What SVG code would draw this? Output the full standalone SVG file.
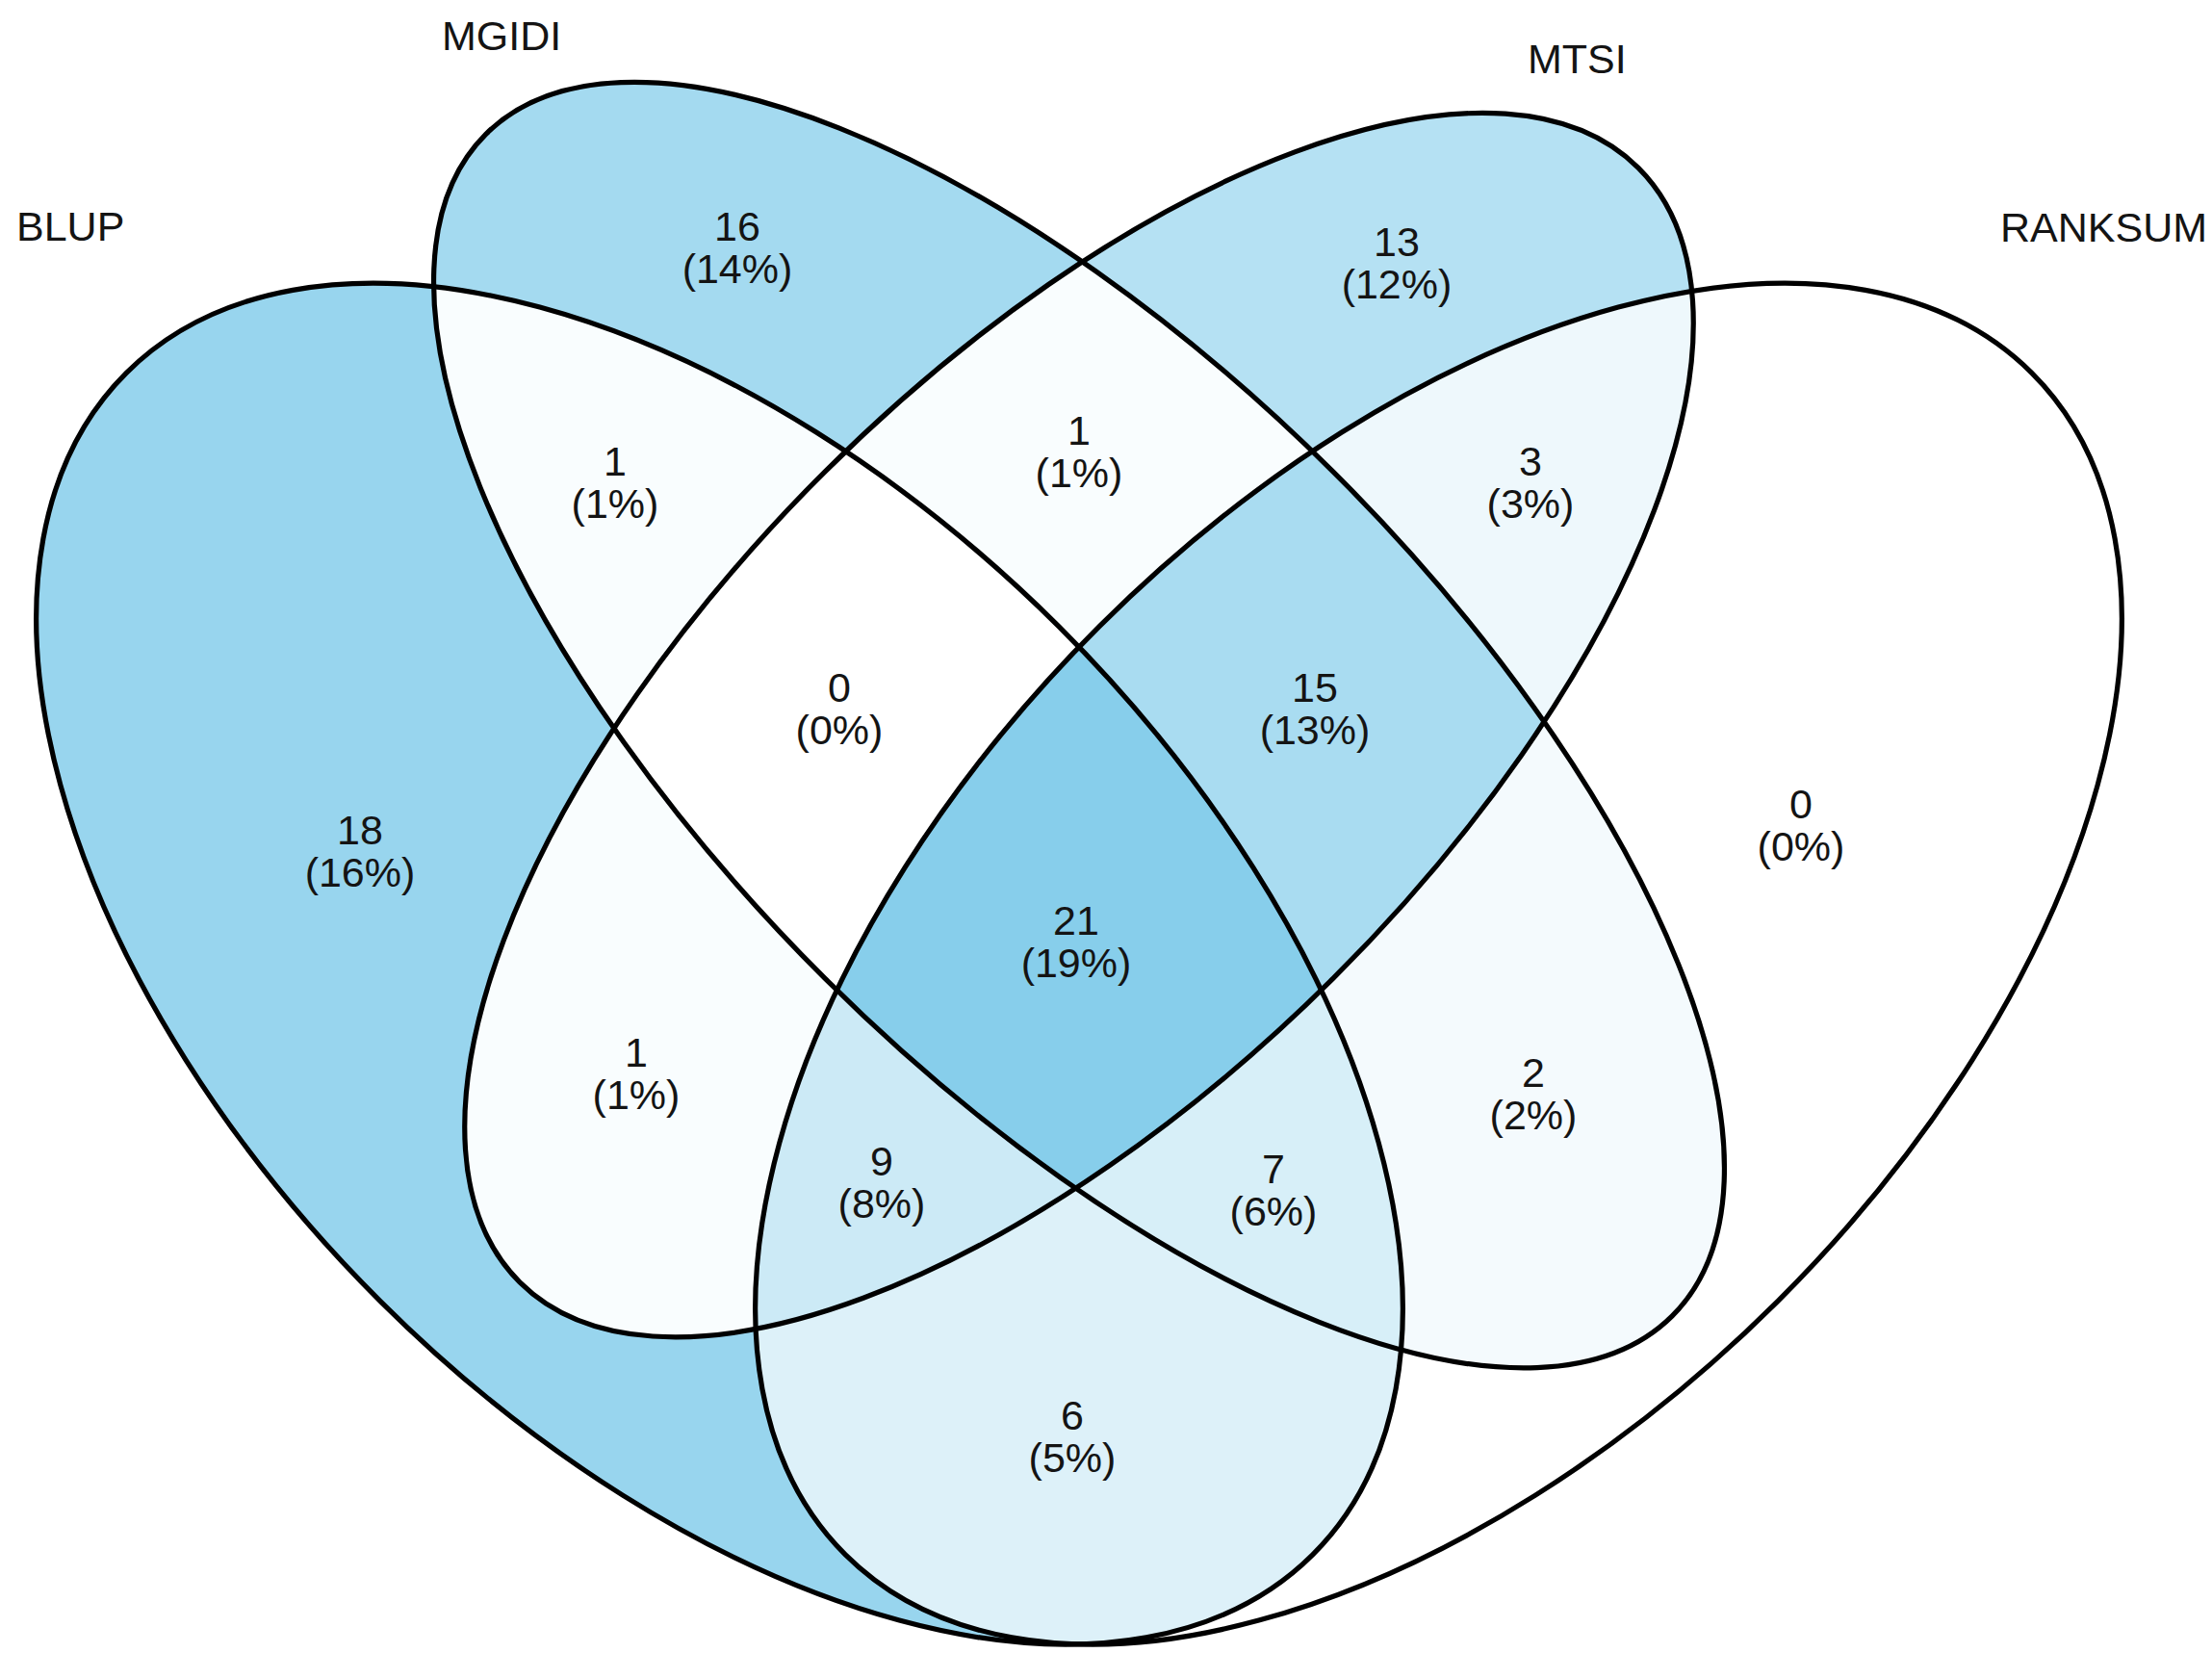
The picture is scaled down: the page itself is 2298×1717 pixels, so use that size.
<svg xmlns="http://www.w3.org/2000/svg" xmlns:xlink="http://www.w3.org/1999/xlink" width="2298" height="1717" viewBox="0 0 2298 1717">
<style>
.o{fill:none;stroke:#000;stroke-width:5.2}
.t{font-family:"Liberation Sans",Arial,sans-serif;font-size:43px;fill:#141414}
.c{text-anchor:middle}
</style>
<defs>
<ellipse id="eA" cx="0.35" cy="0.47" rx="0.35" ry="0.2" transform="rotate(-45 0.35 0.47)" vector-effect="non-scaling-stroke"/>
<ellipse id="eB" cx="0.5" cy="0.57" rx="0.35" ry="0.15" transform="rotate(-45 0.5 0.57)" vector-effect="non-scaling-stroke"/>
<ellipse id="eC" cx="0.5" cy="0.57" rx="0.33" ry="0.15" transform="rotate(45 0.5 0.57)" vector-effect="non-scaling-stroke"/>
<ellipse id="eD" cx="0.65" cy="0.47" rx="0.35" ry="0.2" transform="rotate(45 0.65 0.47)" vector-effect="non-scaling-stroke"/>
<clipPath id="cA"><use xlink:href="#eA"/></clipPath>
<clipPath id="cB"><use xlink:href="#eB"/></clipPath>
<clipPath id="cC"><use xlink:href="#eC"/></clipPath>
<clipPath id="cD"><use xlink:href="#eD"/></clipPath>
<mask id="nBCD" maskUnits="userSpaceOnUse" x="-1" y="-1" width="3" height="3"><rect x="-1" y="-1" width="3" height="3" fill="#fff"/><use xlink:href="#eB" fill="#000"/><use xlink:href="#eC" fill="#000"/><use xlink:href="#eD" fill="#000"/></mask>
<mask id="nACD" maskUnits="userSpaceOnUse" x="-1" y="-1" width="3" height="3"><rect x="-1" y="-1" width="3" height="3" fill="#fff"/><use xlink:href="#eA" fill="#000"/><use xlink:href="#eC" fill="#000"/><use xlink:href="#eD" fill="#000"/></mask>
<mask id="nABD" maskUnits="userSpaceOnUse" x="-1" y="-1" width="3" height="3"><rect x="-1" y="-1" width="3" height="3" fill="#fff"/><use xlink:href="#eA" fill="#000"/><use xlink:href="#eB" fill="#000"/><use xlink:href="#eD" fill="#000"/></mask>
<mask id="nABC" maskUnits="userSpaceOnUse" x="-1" y="-1" width="3" height="3"><rect x="-1" y="-1" width="3" height="3" fill="#fff"/><use xlink:href="#eA" fill="#000"/><use xlink:href="#eB" fill="#000"/><use xlink:href="#eC" fill="#000"/></mask>
<mask id="nCD" maskUnits="userSpaceOnUse" x="-1" y="-1" width="3" height="3"><rect x="-1" y="-1" width="3" height="3" fill="#fff"/><use xlink:href="#eC" fill="#000"/><use xlink:href="#eD" fill="#000"/></mask>
<mask id="nAD" maskUnits="userSpaceOnUse" x="-1" y="-1" width="3" height="3"><rect x="-1" y="-1" width="3" height="3" fill="#fff"/><use xlink:href="#eA" fill="#000"/><use xlink:href="#eD" fill="#000"/></mask>
<mask id="nAB" maskUnits="userSpaceOnUse" x="-1" y="-1" width="3" height="3"><rect x="-1" y="-1" width="3" height="3" fill="#fff"/><use xlink:href="#eA" fill="#000"/><use xlink:href="#eB" fill="#000"/></mask>
<mask id="nBD" maskUnits="userSpaceOnUse" x="-1" y="-1" width="3" height="3"><rect x="-1" y="-1" width="3" height="3" fill="#fff"/><use xlink:href="#eB" fill="#000"/><use xlink:href="#eD" fill="#000"/></mask>
<mask id="nAC" maskUnits="userSpaceOnUse" x="-1" y="-1" width="3" height="3"><rect x="-1" y="-1" width="3" height="3" fill="#fff"/><use xlink:href="#eA" fill="#000"/><use xlink:href="#eC" fill="#000"/></mask>
<mask id="nBC" maskUnits="userSpaceOnUse" x="-1" y="-1" width="3" height="3"><rect x="-1" y="-1" width="3" height="3" fill="#fff"/><use xlink:href="#eB" fill="#000"/><use xlink:href="#eC" fill="#000"/></mask>
<mask id="nA" maskUnits="userSpaceOnUse" x="-1" y="-1" width="3" height="3"><rect x="-1" y="-1" width="3" height="3" fill="#fff"/><use xlink:href="#eA" fill="#000"/></mask>
<mask id="nB" maskUnits="userSpaceOnUse" x="-1" y="-1" width="3" height="3"><rect x="-1" y="-1" width="3" height="3" fill="#fff"/><use xlink:href="#eB" fill="#000"/></mask>
<mask id="nC" maskUnits="userSpaceOnUse" x="-1" y="-1" width="3" height="3"><rect x="-1" y="-1" width="3" height="3" fill="#fff"/><use xlink:href="#eC" fill="#000"/></mask>
<mask id="nD" maskUnits="userSpaceOnUse" x="-1" y="-1" width="3" height="3"><rect x="-1" y="-1" width="3" height="3" fill="#fff"/><use xlink:href="#eD" fill="#000"/></mask>
</defs>
<rect width="2298" height="1717" fill="#fff"/>
<g id="regions" transform="matrix(2490 0 0 -2480 -124 2166.7)">
<g id="r-BLUP"><use xlink:href="#eA" fill="#98D5EE" mask="url(#nBCD)"/></g>
<g id="r-MGIDI"><use xlink:href="#eB" fill="#A4DAF0" mask="url(#nACD)"/></g>
<g id="r-MTSI"><use xlink:href="#eC" fill="#B5E1F3" mask="url(#nABD)"/></g>
<g id="r-RANKSUM"><use xlink:href="#eD" fill="#FFFFFF" mask="url(#nABC)"/></g>
<g id="r-AB" clip-path="url(#cA)"><use xlink:href="#eB" fill="#F9FDFE" mask="url(#nCD)"/></g>
<g id="r-BC" clip-path="url(#cB)"><use xlink:href="#eC" fill="#F9FDFE" mask="url(#nAD)"/></g>
<g id="r-CD" clip-path="url(#cC)"><use xlink:href="#eD" fill="#EEF8FC" mask="url(#nAB)"/></g>
<g id="r-AC" clip-path="url(#cA)"><use xlink:href="#eC" fill="#F9FDFE" mask="url(#nBD)"/></g>
<g id="r-BD" clip-path="url(#cB)"><use xlink:href="#eD" fill="#F4FAFD" mask="url(#nAC)"/></g>
<g id="r-AD" clip-path="url(#cA)"><use xlink:href="#eD" fill="#DDF1F9" mask="url(#nBC)"/></g>
<g id="r-ABC" clip-path="url(#cA)"><g clip-path="url(#cB)"><use xlink:href="#eC" fill="#FFFFFF" mask="url(#nD)"/></g></g>
<g id="r-BCD" clip-path="url(#cB)"><g clip-path="url(#cC)"><use xlink:href="#eD" fill="#A9DCF1" mask="url(#nA)"/></g></g>
<g id="r-ACD" clip-path="url(#cA)"><g clip-path="url(#cC)"><use xlink:href="#eD" fill="#CCEAF6" mask="url(#nB)"/></g></g>
<g id="r-ABD" clip-path="url(#cA)"><g clip-path="url(#cB)"><use xlink:href="#eD" fill="#D7EFF8" mask="url(#nC)"/></g></g>
<g id="r-ABCD" clip-path="url(#cA)"><g clip-path="url(#cB)"><g clip-path="url(#cC)"><use xlink:href="#eD" fill="#87CEEB"/></g></g></g>
</g>
<g id="outlines" transform="matrix(2490 0 0 -2480 -124 2166.7)">
<use id="set-BLUP" xlink:href="#eA" class="o"/>
<use id="set-MGIDI" xlink:href="#eB" class="o"/>
<use id="set-MTSI" xlink:href="#eC" class="o"/>
<use id="set-RANKSUM" xlink:href="#eD" class="o"/>
</g>
<g id="set-labels" class="t">
<text x="17" y="250">BLUP</text>
<text x="459" y="52">MGIDI</text>
<text x="1587" y="76">MTSI</text>
<text x="2078" y="251">RANKSUM</text>
</g>
<g id="region-labels" class="t c">
<g id="l-BLUP"><text x="374" y="877">18</text><text x="374" y="921">(16%)</text></g>
<g id="l-MGIDI"><text x="766" y="250">16</text><text x="766" y="294">(14%)</text></g>
<g id="l-MTSI"><text x="1451" y="266">13</text><text x="1451" y="310">(12%)</text></g>
<g id="l-RANKSUM"><text x="1871" y="850">0</text><text x="1871" y="894">(0%)</text></g>
<g id="l-AB"><text x="639" y="494">1</text><text x="639" y="538">(1%)</text></g>
<g id="l-BC"><text x="1121" y="462">1</text><text x="1121" y="506">(1%)</text></g>
<g id="l-CD"><text x="1590" y="494">3</text><text x="1590" y="538">(3%)</text></g>
<g id="l-ABC"><text x="872" y="729">0</text><text x="872" y="773">(0%)</text></g>
<g id="l-BCD"><text x="1366" y="729">15</text><text x="1366" y="773">(13%)</text></g>
<g id="l-ABCD"><text x="1118" y="971">21</text><text x="1118" y="1015">(19%)</text></g>
<g id="l-AC"><text x="661" y="1108">1</text><text x="661" y="1152">(1%)</text></g>
<g id="l-BD"><text x="1593" y="1129">2</text><text x="1593" y="1173">(2%)</text></g>
<g id="l-ACD"><text x="916" y="1221">9</text><text x="916" y="1265">(8%)</text></g>
<g id="l-ABD"><text x="1323" y="1229">7</text><text x="1323" y="1273">(6%)</text></g>
<g id="l-AD"><text x="1114" y="1485">6</text><text x="1114" y="1529">(5%)</text></g>
</g>
</svg>
